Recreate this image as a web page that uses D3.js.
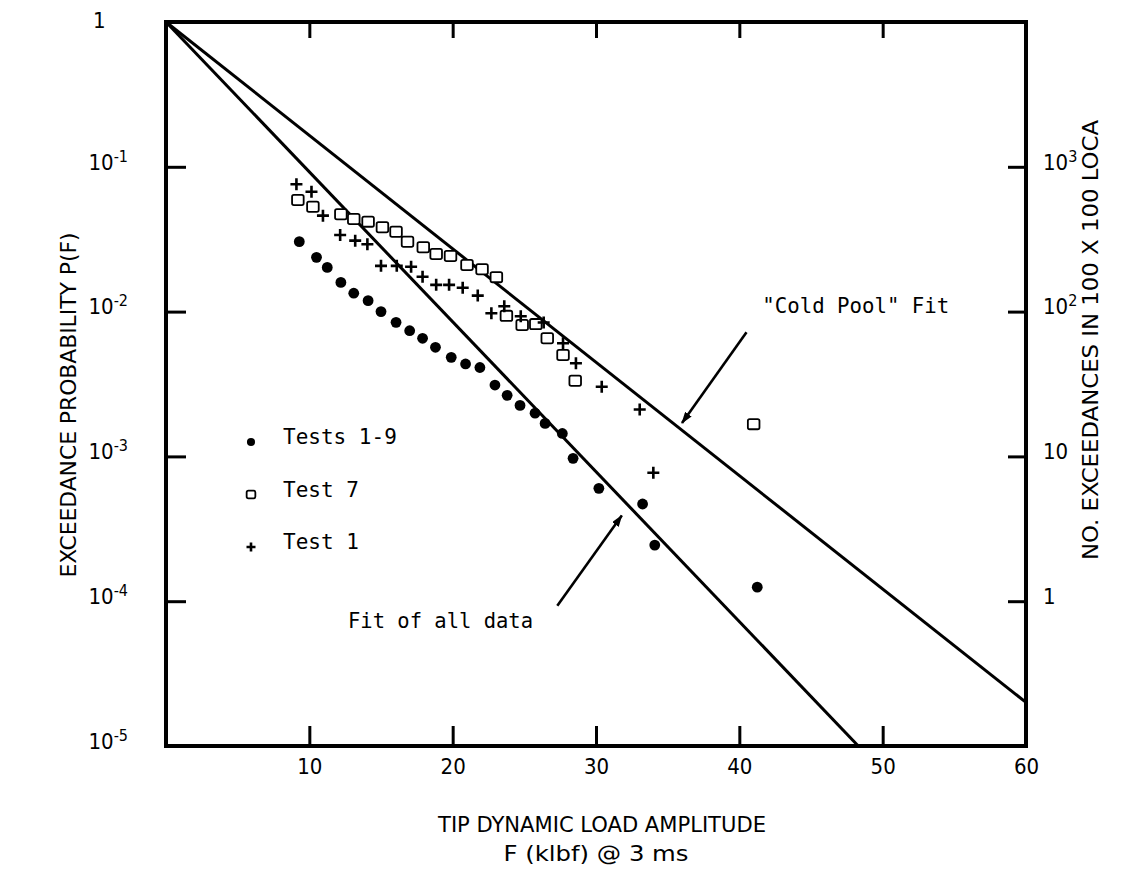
<!DOCTYPE html>
<html lang="en">
<head>
<meta charset="UTF-8" />
<title>Exceedance probability vs tip dynamic load</title>
<script src="https://d3js.org/d3.v7.min.js"></script>
<style>
  body { margin: 0; background: #fff; }
  svg { display: block; }
  .cond { font-family: 'DejaVu Sans Condensed', 'DejaVu Sans', sans-serif; font-stretch: condensed; }
  .mono { font-family: 'DejaVu Sans Mono', 'Liberation Mono', monospace; }
</style>
</head>
<body>
<div id="chart"></div>
<script>
// Tests 1-9 (filled circles)
const allTestsF = [9.3, 10.5, 11.25, 12.2, 13.1, 14.1, 15.0, 16.05, 17.0, 17.9, 18.8, 19.9, 20.9,
  21.9, 22.95, 23.8, 24.7, 25.75, 26.45, 27.65, 28.4, 30.2, 33.25, 34.1, 41.25];
const allTestsP = [0.0304, 0.0237, 0.0202, 0.0159, 0.0134, 0.0119, 0.0100, 0.00843, 0.00738, 0.00654,
  0.00567, 0.00483, 0.00435, 0.00411, 0.00311, 0.00264, 0.00225, 0.00199, 0.00169, 0.00144, 0.00097,
  0.000602, 0.000469, 0.000244, 0.000125];

// Test 7 (open squares)
const test7F = [9.2, 10.25, 12.2, 13.1, 14.1, 15.1, 16.05, 16.85, 17.95, 18.85, 19.85, 21.0, 22.05,
  23.05, 23.75, 24.85, 25.8, 26.6, 27.7, 28.55, 41.0];
const test7P = [0.0590, 0.0530, 0.0470, 0.0436, 0.0418, 0.0382, 0.0356, 0.0304, 0.0278, 0.0250, 0.0242,
  0.0210, 0.0196, 0.0173, 0.00935, 0.00808, 0.00820, 0.00654, 0.00501, 0.00333, 0.00167];

// Test 1 (plus signs)
const test1F = [9.1, 10.15, 10.95, 12.15, 13.2, 14.05, 15.0, 16.1, 17.1, 17.9, 18.85, 19.75, 20.7,
  21.75, 22.7, 23.6, 24.75, 26.35, 27.7, 28.6, 30.4, 33.05, 34.0];
const test1P = [0.0757, 0.0673, 0.0460, 0.0338, 0.0309, 0.0292, 0.0207, 0.0207, 0.0204, 0.0174, 0.0153,
  0.0153, 0.0146, 0.0129, 0.00973, 0.0109, 0.00929, 0.00841, 0.00604, 0.00440, 0.00303, 0.00211, 0.000771];

// fitted lines
const fitAllF = [0, 48.3];
const fitAllP = [1, 1e-5];
const coldPoolF = [0, 60];
const coldPoolP = [1, 2.0e-5];

// axes
const xTicks = [10, 20, 30, 40, 50, 60];
const leftTicks = [1, 1e-1, 1e-2, 1e-3, 1e-4, 1e-5];
const leftTickExp = ['', '-1', '-2', '-3', '-4', '-5'];
const rightTicks = [1, 10, 100, 1000];
const rightTickExp = ['', '', '2', '3'];

const seriesNames = ['Tests 1-9', 'Test 7', 'Test 1'];

const W = 1125, H = 875;
const svg = d3.select('#chart').append('svg').attr('width', W).attr('height', H);
svg.append('rect').attr('width', W).attr('height', H).attr('fill', '#fff');

const x = d3.scaleLinear().domain([0, 60]).range([166, 1026]);
const y = d3.scaleLog().domain([1e-5, 1]).range([746, 22]);
const yRight = d3.scaleLog().domain([1e-1, 1e4]).range([746, 22]);

// frame
svg.append('rect')
  .attr('x', x(0)).attr('y', y(1))
  .attr('width', x(60) - x(0)).attr('height', y(1e-5) - y(1))
  .attr('fill', 'none').attr('stroke', '#000').attr('stroke-width', 4);

function styleAxis(g) {
  g.select('.domain').remove();
  g.selectAll('.tick line').attr('stroke', '#000').attr('stroke-width', 3);
  g.attr('font-family', null).attr('font-size', 22).attr('class', 'cond');
  g.selectAll('.tick text').attr('fill', '#000');
}

function powLabel(text, base, exp) {
  text.text(null);
  text.append('tspan').text(base);
  if (exp) text.append('tspan').attr('dy', '-0.5em').attr('font-size', 16).text(exp);
}

// bottom axis
svg.append('g')
  .attr('transform', `translate(0,${y(1e-5)})`)
  .call(d3.axisBottom(x).tickValues(xTicks).tickSize(-20).tickPadding(12))
  .call(styleAxis);

// top axis (ticks only)
svg.append('g')
  .attr('transform', `translate(0,${y(1)})`)
  .call(d3.axisTop(x).tickValues(xTicks.slice(0, 5)).tickSize(-16).tickFormat(() => ''))
  .call(styleAxis);

// left axis
const gL = svg.append('g')
  .attr('transform', `translate(${x(0)},0)`)
  .call(d3.axisLeft(y).tickValues(leftTicks).tickSize(-20).tickPadding(38).tickFormat(() => ''))
  .call(styleAxis);
gL.selectAll('.tick text').each(function (d, i) {
  const t = d3.select(this).attr('dy', '0.1em');
  if (d === 1) {
    t.attr('text-anchor', 'start').attr('x', -73).attr('dy', '0.25em');
    powLabel(t, '1', '');
  } else {
    powLabel(t, '10', leftTickExp[i]);
  }
});

// right axis
const gR = svg.append('g')
  .attr('transform', `translate(${x(60)},0)`)
  .call(d3.axisRight(yRight).tickValues(rightTicks).tickSize(-18).tickPadding(17).tickFormat(() => ''))
  .call(styleAxis);
gR.selectAll('.tick text').each(function (d, i) {
  const t = d3.select(this).attr('dy', '0.1em');
  if (rightTickExp[i]) powLabel(t, '10', rightTickExp[i]);
  else powLabel(t, String(d), '');
});

// axis titles
svg.append('text').attr('class', 'cond').attr('font-size', 22)
  .attr('x', 602).attr('y', 832).attr('text-anchor', 'middle')
  .attr('textLength', 328).attr('lengthAdjust', 'spacingAndGlyphs')
  .text('TIP DYNAMIC LOAD AMPLITUDE');
svg.append('text').attr('class', 'cond').attr('font-size', 22)
  .attr('x', 596).attr('y', 861).attr('text-anchor', 'middle')
  .attr('textLength', 185).attr('lengthAdjust', 'spacingAndGlyphs')
  .text('F (klbf) @ 3 ms');
svg.append('text').attr('class', 'cond').attr('font-size', 22)
  .attr('transform', 'translate(76,405) rotate(-90)').attr('text-anchor', 'middle')
  .attr('textLength', 345).attr('lengthAdjust', 'spacingAndGlyphs')
  .text('EXCEEDANCE PROBABILITY P(F)');
svg.append('text').attr('class', 'cond').attr('font-size', 22)
  .attr('transform', 'translate(1098,340) rotate(-90)').attr('text-anchor', 'middle')
  .attr('textLength', 440).attr('lengthAdjust', 'spacingAndGlyphs')
  .text('NO. EXCEEDANCES IN 100 X 100 LOCA');

// fit lines
const line = d3.line().x(d => x(d[0])).y(d => y(d[1]));
[[fitAllF, fitAllP], [coldPoolF, coldPoolP]].forEach(([fs, ps]) => {
  svg.append('path').datum(d3.zip(fs, ps)).attr('d', line)
    .attr('fill', 'none').attr('stroke', '#000').attr('stroke-width', 3);
});

// markers
function drawMarker(sel, kind, s) {
  if (kind === 0) {
    sel.append('circle').attr('r', 5.4 * s).attr('fill', '#000');
  } else if (kind === 1) {
    sel.append('rect').attr('x', -5.8 * s).attr('y', -5.1 * s)
      .attr('width', 11.6 * s).attr('height', 10.2 * s).attr('rx', 1.8)
      .attr('fill', '#fff').attr('stroke', '#000').attr('stroke-width', 1.8);
  } else {
    sel.append('path').attr('d', `M${-6 * s},0H${6 * s}M0,${-6 * s}V${6 * s}`)
      .attr('stroke', '#000').attr('stroke-width', 2.6).attr('fill', 'none');
  }
}

const series = [[allTestsF, allTestsP], [test7F, test7P], [test1F, test1P]];
series.forEach(([fs, ps], k) => {
  svg.append('g').selectAll('g').data(d3.zip(fs, ps)).join('g')
    .attr('transform', d => `translate(${x(d[0])},${y(d[1])})`)
    .each(function () { drawMarker(d3.select(this), k, 1); });
});

// legend
const legend = svg.append('g').attr('transform', 'translate(251,442)');
seriesNames.forEach((name, k) => {
  const item = legend.append('g').attr('transform', `translate(0,${k * 52.5})`);
  drawMarker(item, k, 0.75);
  item.append('text').attr('class', 'mono').attr('font-size', 21)
    .attr('x', 32).attr('y', 2).text(name);
});

// annotations
svg.append('defs').append('marker')
  .attr('id', 'arrow').attr('viewBox', '0 0 12 8').attr('refX', 11).attr('refY', 4)
  .attr('markerWidth', 12).attr('markerHeight', 8).attr('markerUnits', 'userSpaceOnUse')
  .attr('orient', 'auto')
  .append('path').attr('d', 'M0,0L12,4L0,8Z').attr('fill', '#000');

const notes = [
  { text: '"Cold Pool" Fit', at: [41.6, 0.0098], len: 187, from: [40.5, 0.0072], to: [36.0, 0.0017] },
  { text: 'Fit of all data', at: [12.7, 6.5e-5], len: 185, from: [27.3, 9.3e-5], to: [31.8, 3.9e-4] }
];
notes.forEach(n => {
  svg.append('text').attr('class', 'mono').attr('font-size', 21)
    .attr('x', x(n.at[0])).attr('y', y(n.at[1]))
    .attr('textLength', n.len).attr('lengthAdjust', 'spacingAndGlyphs')
    .text(n.text);
  svg.append('line')
    .attr('x1', x(n.from[0])).attr('y1', y(n.from[1]))
    .attr('x2', x(n.to[0])).attr('y2', y(n.to[1]))
    .attr('stroke', '#000').attr('stroke-width', 2.6).attr('marker-end', 'url(#arrow)');
});
</script>
</body>
</html>
